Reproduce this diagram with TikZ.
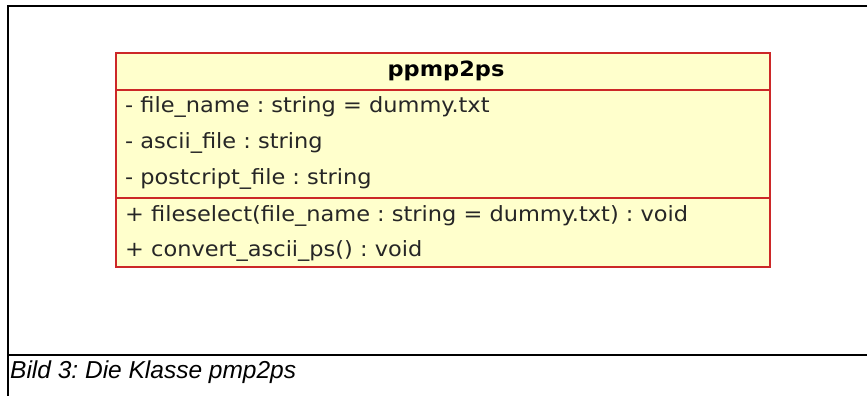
\documentclass[tikz,border=0pt]{standalone}
\usepackage{fontspec}
\setmainfont[FakeStretch=1.07]{DejaVu Sans}
\newfontfamily\captionfont{Liberation Sans}
\frenchspacing
\definecolor{umlfill}{RGB}{255,255,204}
\definecolor{umlline}{RGB}{204,40,40}
\begin{document}
\begin{tikzpicture}[x=1pt,y=-1pt,
  member/.style={anchor=base west,inner sep=0pt,font=\fontsize{21}{24}\selectfont,text=black!85},
  frameline/.style={line width=1.5pt,black}]
\useasboundingbox (0,0) rectangle (868,396);
% outer frame of the figure
\draw[frameline] (867,6) -- (8,6) -- (8,396);
\draw[frameline] (8,355) -- (867,355);
% class box
\draw[umlline,fill=umlfill,line width=1.2pt] (116,53) rectangle (770,267);
\draw[umlline,line width=1.2pt] (116,90) -- (770,90);
\draw[umlline,line width=1.2pt] (116,198) -- (770,198);
\node[anchor=base,inner sep=0pt,font=\fontsize{21}{24}\selectfont\bfseries] (name) at (446,77) {ppmp2ps};
\node[member] (a1) at (125,112.3) {- file\_name : string = dummy.txt};
\node[member] (a2) at (125,148.3) {- ascii\_file : string};
\node[member] (a3) at (125,184.3) {- postcript\_file : string};
\node[member] (o1) at (125,221.7) {+ fileselect(file\_name : string = dummy.txt) : void};
\node[member] (o2) at (125,256.7) {+ convert\_ascii\_ps() : void};
% caption
\node[anchor=base west,inner sep=0pt,font=\captionfont\itshape\fontsize{24.5}{28}\selectfont] (cap) at (10,378) {Bild 3: Die Klasse pmp2ps};
\end{tikzpicture}
\end{document}
